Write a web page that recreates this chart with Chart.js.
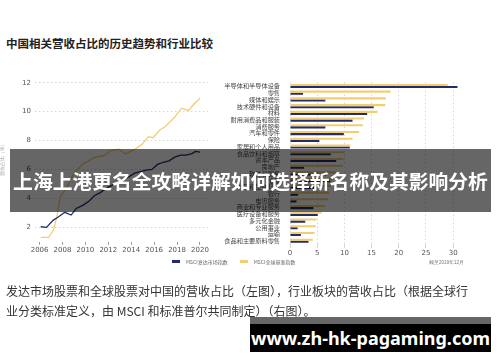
<!DOCTYPE html>
<html><head><meta charset="utf-8">
<script src="https://cdn.jsdelivr.net/npm/chart.js@4"></script>
<style>
html,body{margin:0;padding:0;background:#fff;width:500px;height:362px;overflow:hidden;font-family:"Noto Sans CJK SC",sans-serif;}
#title{position:absolute;left:6px;top:35px;font-size:11.5px;font-weight:bold;color:#222;white-space:nowrap;}
#c1{position:absolute;left:0;top:60px;}
#c2{position:absolute;left:220px;top:70px;}
#legend{position:absolute;left:172px;top:257px;font-size:5px;color:#666;white-space:nowrap;}
#legend span.sw{display:inline-block;width:8px;height:3.5px;vertical-align:middle;margin-right:6px;}
#legend span.lb{vertical-align:middle;margin-right:12px;}
#banner{position:absolute;left:10px;top:149px;width:481px;height:63px;background:rgba(0,0,0,0.6);color:#fff;font-weight:bold;font-size:19.8px;line-height:63px;text-align:center;white-space:nowrap;}
#note{position:absolute;left:6px;top:281px;font-size:12px;line-height:20px;color:#333;white-space:nowrap;}
#wm{position:absolute;left:250px;top:317px;width:241px;height:28px;background:#000;border-top:7px solid #666;color:#fff;font-family:"Noto Sans",sans-serif;font-weight:bold;font-size:18px;line-height:28px;text-align:center;white-space:nowrap;}
</style>
</head><body>
<div id="title">中国相关营收占比的历史趋势和行业比较</div>
<canvas id="c1" width="220" height="200"></canvas>
<canvas id="c2" width="280" height="195"></canvas>
<div id="legend"></div>
<div id="banner">上海上港更名全攻略详解如何选择新名称及其影响分析</div>
<div id="note">发达市场股票和全球股票对中国的营收占比（左图），行业板块的营收占比（根据全球行<br>业分类标准定义，由 MSCI 和标准普尔共同制定）（右图）。</div>
<div id="wm">www.zh-hk-pagaming.com</div>
<script>
// ---- data ----
const seriesNames = ['MSCI发达市场指数', 'MSCI全球基准指数'];
const seriesColors = ['#222d6e', '#f2cd72'];

const xTicks = [2006, 2008, 2010, 2012, 2014, 2016, 2018, 2020];
const yTicks = [2, 4, 6, 8, 10, 12];

const devYears = [2006.1, 2006.6, 2007.2, 2007.6, 2008.2, 2008.75, 2009.2, 2009.8, 2010.3, 2010.8, 2011.3, 2011.8, 2012.3, 2012.8, 2013.3, 2013.8, 2014.3, 2014.8, 2015.3, 2015.8, 2016.3, 2016.8, 2017.3, 2017.8, 2018.3, 2018.8, 2019.3, 2019.6, 2020.0];
const devValues = [2.04, 2.0, 2.5, 2.7, 3.04, 2.85, 3.3, 3.54, 3.8, 4.2, 4.4, 4.7, 4.9, 5.1, 5.3, 5.5, 5.75, 5.85, 5.95, 6.0, 6.35, 6.5, 6.6, 6.85, 7.0, 7.0, 7.1, 7.25, 7.2];

const glbYears = [2006.1, 2006.8, 2007.2, 2007.5, 2007.8, 2008.4, 2008.9, 2009.3, 2009.8, 2010.3, 2010.7, 2011.1, 2011.6, 2012.2, 2012.9, 2013.5, 2014.2, 2014.9, 2015.5, 2015.9, 2016.5, 2016.95, 2017.7, 2018.4, 2019.0, 2019.4, 2020.0];
const glbValues = [1.31, 1.3, 1.8, 2.7, 4.1, 4.8, 5.6, 6.0, 6.4, 6.6, 6.8, 6.9, 6.95, 7.3, 7.42, 7.07, 7.35, 7.7, 8.27, 8.2, 8.73, 8.96, 9.54, 10.24, 10.07, 10.46, 10.93];

const sectors = ['半导体和半导体设备','零售','媒体和娱乐','技术硬件和设备','材料','耐用消费品和服装','消费服务','汽车和零件','保险','家居和个人用品','食品饮料和烟草','资本产品','房地产','软件和服务','能源','制药和生物科技','银行','电讯服务','商业和专业服务','医疗设备和服务','多元化金融','公用事业','运输','食品和主要原料零售'];
const sectorGlobal = [29.0, 18.5, 17.6, 17.5, 16.1, 13.6, 13.4, 12.7, 11.5, 11.1, 10.0, 9.8, 9.7, 8.4, 8.2, 7.6, 7.2, 7.0, 6.4, 5.8, 4.9, 4.7, 4.5, 4.2];
const sectorDev = [30.8, 2.4, 6.5, 15.4, 14.2, 11.5, 6.5, 9.9, 5.4, 11.0, 7.5, 8.5, 2.6, 6.7, 7.4, 4.5, 1.5, 1.2, 4.3, 5.1, 2.8, 1.4, 2.0, 3.4];
const barTicks = [0, 5, 10, 15, 20, 25, 30];
const asOf = '截至2019年12月';
const yTitle = '营收占比（%）';

// ---- legend ----
const lg = document.getElementById('legend');
seriesNames.forEach((n, i) => {
  const s = document.createElement('span'); s.className = 'sw'; s.style.background = seriesColors[i]; lg.appendChild(s);
  const t = document.createElement('span'); t.className = 'lb'; t.textContent = n; lg.appendChild(t);
});

const tickFont = {family: '"DejaVu Sans", sans-serif', size: 7};

// ---- left line chart ----
new Chart(document.getElementById('c1'), {
  type: 'line',
  data: {
    datasets: [
      {label: seriesNames[0], data: devYears.map((x, i) => ({x, y: devValues[i]})), borderColor: seriesColors[0], borderWidth: 1.3, pointRadius: 0, tension: 0},
      {label: seriesNames[1], data: glbYears.map((x, i) => ({x, y: glbValues[i]})), borderColor: seriesColors[1], borderWidth: 1.3, pointRadius: 0, tension: 0}
    ]
  },
  options: {
    responsive: false, animation: false,
    layout: {padding: {top: 15.5, right: 12, left: 0, bottom: 0}},
    plugins: {legend: {display: false}, tooltip: {enabled: false}},
    scales: {
      x: {
        type: 'linear', min: 2005.6, max: 2020.7,
        afterBuildTicks: s => { s.ticks = xTicks.map(v => ({value: v})); },
        afterFit: s => { s.height = 18.2; },
        ticks: {font: tickFont, color: '#555', padding: 1, callback: v => String(v)},
        grid: {drawOnChartArea: false, tickLength: 3, color: '#999'},
        border: {display: false}
      },
      y: {
        min: 1, max: 12.5,
        afterBuildTicks: s => { s.ticks = yTicks.map(v => ({value: v})); },
        afterFit: s => { s.width = 35; },
        ticks: {font: tickFont, color: '#555', padding: 4},
        grid: {drawTicks: false, color: '#d6d6d6', lineWidth: 1},
        border: {display: false, dash: [1.5, 2.5]},
        title: {display: true, text: yTitle, font: {size: 4.5}, color: '#999', padding: 0}
      }
    }
  }
});

// ---- right bar chart ----
new Chart(document.getElementById('c2'), {
  type: 'bar',
  data: {
    labels: sectors,
    datasets: [
      {label: seriesNames[1], data: sectorGlobal, backgroundColor: seriesColors[1]},
      {label: seriesNames[0], data: sectorDev, backgroundColor: seriesColors[0]}
    ]
  },
  options: {
    indexAxis: 'y', responsive: false, animation: false,
    layout: {padding: {top: 12.6, right: 36, left: 0, bottom: 0}},
    datasets: {bar: {categoryPercentage: 0.62, barPercentage: 1.0}},
    plugins: {legend: {display: false}, tooltip: {enabled: false}},
    scales: {
      x: {
        min: 0, max: 32,
        afterBuildTicks: s => { s.ticks = barTicks.map(v => ({value: v})); },
        afterFit: s => { s.height = 20.9; },
        ticks: {font: tickFont, color: '#555', padding: 1},
        grid: {color: '#d6d6d6', lineWidth: 1, tickLength: 4},
        border: {display: false, dash: [1.5, 2.5]},
        title: {display: true, text: asOf, align: 'end', font: {size: 4.5}, color: '#777', padding: {top: 2, bottom: 0}}
      },
      y: {
        afterFit: s => { s.width = 70; },
        ticks: {font: {family: '"Noto Sans CJK SC", sans-serif', size: 6.2}, color: '#444', padding: 2, autoSkip: false},
        grid: {display: false},
        border: {display: false}
      }
    }
  }
});
</script>
</body></html>
